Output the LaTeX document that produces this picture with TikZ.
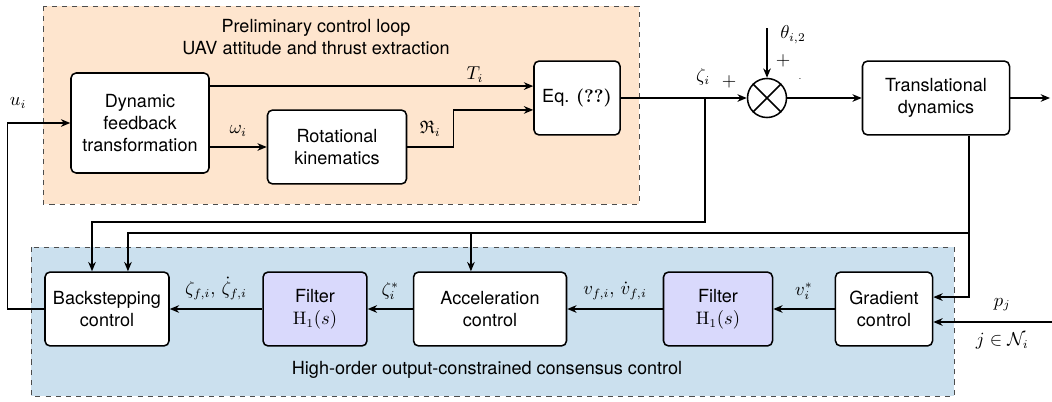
\documentclass[tikz,border=0pt]{standalone}
\usepackage{amssymb}
\usepackage{fontspec}
\setsansfont{TeX Gyre Heros}
\usetikzlibrary{arrows.meta, positioning}
\definecolor{loopbg}{RGB}{254,229,206}
\definecolor{consbg}{RGB}{203,224,238}
\definecolor{filterbg}{RGB}{217,217,252}

\begin{document}
\begin{tikzpicture}[
    x=0.587pt, y=-0.587pt,
    font=\fontsize{10.6pt}{13pt}\selectfont\sffamily,
    block/.style={draw, line width=0.9pt, rounded corners=3pt, fill=white, align=center, minimum height=43.4pt, inner sep=2pt},
    filterblock/.style={block, fill=filterbg},
    sumnode/.style={circle, draw, line width=0.9pt, minimum size=22.9pt, inner sep=0pt},
    group/.style={draw=black!70, dashed},
    sig/.style={-{Stealth[length=5.5pt, width=4.5pt]}, line width=0.75pt},
    siglabel/.style={inner sep=1pt}
]
\useasboundingbox (0,0) rectangle (1052,401);

% background groups
\draw[group, fill=loopbg] (43,6) rectangle (639,204);
\draw[group, fill=consbg] (31,247) rectangle (954,396);
\node[align=center] (looptitle) at (316,37) {Preliminary control loop\\UAV attitude and thrust extraction};
\node (constitle) at (487,370) {High-order output-constrained consensus control};

% upper chain
\node[block, minimum width=81pt, minimum height=58.7pt] (dyn) at (140,123) {Dynamic\\feedback\\transformation};
\node[block, minimum width=81.6pt] (rot) at (337,147) {Rotational\\kinematics};
\node[block, minimum width=50.5pt] (eq) at (577,98) {Eq. {\rmfamily\bfseries (??)}};
\node[sumnode] (sum) at (767,98) {};
\draw[line width=0.9pt] (sum.north west) -- (sum.south east) (sum.north east) -- (sum.south west);
\node[block, minimum width=86.3pt] (trans) at (936,98) {Translational\\dynamics};

% lower chain
\node[block, minimum width=72.8pt] (back) at (107,309) {Backstepping\\control};
\node[filterblock, minimum width=61pt] (filtA) at (315,309) {Filter\\$\mathrm{H}_1(s)$};
\node[block, minimum width=89.8pt] (acc) at (490,309) {Acceleration\\control};
\node[filterblock, minimum width=64pt] (filtB) at (718,309) {Filter\\$\mathrm{H}_1(s)$};
\node[block, minimum width=57pt] (grad) at (884,309) {Gradient\\control};

\coordinate (eqT) at ([yshift=7pt]eq.west);
\coordinate (eqR) at ([yshift=-7pt]eq.west);
\coordinate (zb) at (705,98);
\coordinate (zd) at (705,222);
\coordinate (tj) at (969,233);
\coordinate (thin) at (767,28);
\coordinate (out) at (1050,98);
\coordinate (pin) at (1052,322);

% upper signals
\draw[sig] (dyn.east |- eqT) -- (eqT) node[siglabel, above=1pt, pos=0.82] {$T_i$};
\draw[sig] (dyn.east |- rot.west) -- (rot.west) node[siglabel, above=5pt, midway] {$\omega_i$};
\draw[sig] (rot.east) -- ++(46,0) node[siglabel, above=5pt, midway] {$\mathfrak{R}_i$} |- (eqR);
\draw[sig] (eq.east) -- (sum.west);
\node (zlab) at (703,77) {$\zeta_i$};
\node (plusA) at (729,82) {$+$};
\draw[sig] (thin) -- (sum.north);
\node (thlab) at (793,35) {$\theta_{i,2}$};
\node (plusB) at (783,61) {$+$};
\node[inner sep=0pt] (dotB) at (800,79) {\tiny .};
\draw[sig] (sum.east) -- (trans.west);
\draw[sig] (trans.east) -- (out);

% feedback
\draw[sig] (zb) -- (zd) -| ([xshift=-8.8pt]back.north);
\draw[sig] ([xshift=19.4pt]trans.south) |- ([yshift=7pt]grad.east);
\draw[sig] (tj) -| ([xshift=12.3pt]back.north);
\draw[sig] ([xshift=-11.2pt]acc.north |- tj) -- ([xshift=-11.2pt]acc.north);
\draw[sig] (back.west) -- ++(-37,0) |- (dyn.west);
\node (ulab) at (18,103) {$u_i$};

% lower signals
\draw[sig] (grad.west) -- (filtB.east) node[siglabel, above=4pt, midway] {$v_i^*$};
\draw[sig] (filtB.west) -- (acc.east) node[siglabel, above=4pt, midway] {$v_{f,i},\,\dot{v}_{f,i}$};
\draw[sig] (acc.west) -- (filtA.east) node[siglabel, above=4pt, midway] {$\zeta_i^*$};
\draw[sig] (filtA.west) -- (back.east) node[siglabel, above=4pt, midway] {$\zeta_{f,i},\,\dot{\zeta}_{f,i}$};
\draw[sig] (pin) -- (pin -| grad.east) node[siglabel, above=5pt, pos=0.42] {$p_j$} node[siglabel, below=5pt, pos=0.42] {$j\in\mathcal{N}_i$};

\end{tikzpicture}
\end{document}
